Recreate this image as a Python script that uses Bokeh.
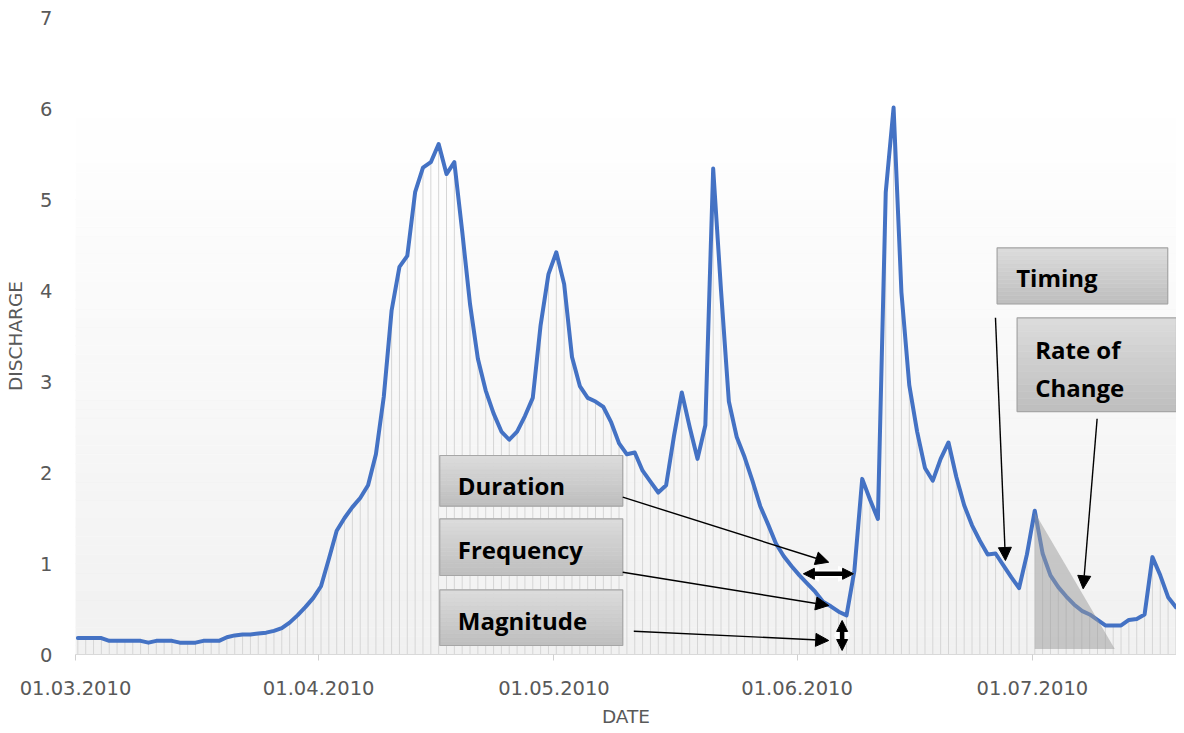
import numpy as np
import pandas as pd
from bokeh.plotting import figure
from bokeh.models import Range1d, FixedTicker, ColumnDataSource, Arrow, NormalHead
from bokeh.core.properties import value
from bokeh.embed import file_html
from bokeh.resources import INLINE

# ---------------- data ----------------
start_date = "2010-03-01"
discharge = [
    # March
    0.18, 0.18, 0.18, 0.18, 0.15, 0.15, 0.15, 0.15, 0.15, 0.13,
    0.15, 0.15, 0.15, 0.13, 0.13, 0.13, 0.15, 0.15, 0.15, 0.19,
    0.21, 0.22, 0.22, 0.23, 0.24, 0.26, 0.29, 0.35, 0.43, 0.52,
    0.62,
    # April
    0.75, 1.05, 1.36, 1.50, 1.62, 1.72, 1.86, 2.20, 2.83, 3.78,
    4.26, 4.38, 5.08, 5.35, 5.41, 5.61, 5.28, 5.41, 4.65, 3.85,
    3.25, 2.90, 2.65, 2.45, 2.36, 2.45, 2.62, 2.82, 3.62, 4.18,
    # May
    4.42, 4.07, 3.27, 2.95, 2.82, 2.78, 2.72, 2.55, 2.32, 2.20,
    2.22, 2.02, 1.90, 1.78, 1.86, 2.40, 2.88, 2.50, 2.15, 2.52,
    5.34, 4.00, 2.78, 2.39, 2.17, 1.91, 1.63, 1.43, 1.22, 1.08,
    0.97,
    # June
    0.87, 0.78, 0.69, 0.58, 0.53, 0.47, 0.43, 0.92, 1.93, 1.70,
    1.49, 5.08, 6.01, 3.98, 2.96, 2.45, 2.05, 1.91, 2.15, 2.33,
    1.95, 1.64, 1.42, 1.25, 1.10, 1.11, 0.98, 0.85, 0.73, 1.10,
    # July
    1.58, 1.11, 0.87, 0.74, 0.64, 0.55, 0.48, 0.44, 0.38, 0.32,
    0.32, 0.32, 0.38, 0.39, 0.44, 1.07, 0.87, 0.63, 0.52,
]
tick_labels = ["01.03.2010", "01.04.2010", "01.05.2010", "01.06.2010", "01.07.2010"]
y_ticks = [0, 1, 2, 3, 4, 5, 6, 7]

annotation_labels = ["Duration", "Frequency", "Magnitude", "Timing", "Rate of", "Change"]

# ---------------- derived ----------------
t0 = pd.Timestamp(start_date)
dates = pd.date_range(t0, periods=len(discharge), freq="D")
day_offset = 0.3  # points sit slightly right of the day tick (Excel style)
xs = np.array([(d - t0).days for d in dates], dtype=float) + day_offset
ys = np.array(discharge)
tick_pos = [(pd.to_datetime(t, format="%d.%m.%Y") - t0).days for t in tick_labels]

src = ColumnDataSource(dict(x=xs, y=ys, y0=np.zeros_like(ys)))

GRAY_TXT = "#595959"
TICK_FONT = "DejaVu Sans"
LBL_FONT = "Open Sans"
X_END = 140.37

p = figure(frame_width=1101, frame_height=637, x_range=Range1d(0, X_END), y_range=Range1d(0, 7),
           output_backend="svg", toolbar_location=None,
           min_border_left=75, min_border_right=0, min_border_top=17, min_border_bottom=70)
p.background_fill_color = "white"
p.border_fill_color = "white"
p.outline_line_color = None
p.xgrid.grid_line_color = None
p.ygrid.grid_line_color = None

# plot-area gradient (white at top -> light gray at bottom)
n_bands = 70
edges = np.linspace(0, 7, n_bands + 1)
cols = []
for i in range(n_bands):
    frac = (edges[i] + edges[i + 1]) / 2 / 7.0
    c = int(round(241 + (255 - 241) * min(1.0, frac * 1.15)))
    cols.append("#%02x%02x%02x" % (c, c, c))
p.quad(left=0, right=X_END, bottom=edges[:-1], top=edges[1:], fill_color=cols,
       line_color=cols, line_width=0.5, level="underlay")

# drop lines
p.segment(x0="x", y0="y0", x1="x", y1="y", source=src, line_color="#d6d6d6", line_width=1)

# main line
p.line("x", "y", source=src, line_color="#4472C4", line_width=4, line_join="round", line_cap="round")

# rate-of-change triangle
peak_i = 122
tri_x = [xs[peak_i], xs[peak_i], xs[peak_i] + 10.2]
tri_y = [ys[peak_i] - 0.02, 0.06, 0.06]
p.patch(tri_x, tri_y, fill_color="#9a9a9a", fill_alpha=0.5, line_color=None)

# ---------------- annotation boxes ----------------
boxes = [
    (46.44, 69.77, 1.630, 2.187),
    (46.44, 69.77, 0.868, 1.491),
    (46.44, 69.77, 0.099, 0.711),
    (117.50, 139.25, 3.854, 4.469),
    (120.05, X_END, 2.670, 3.700),
]
for (l, r, b, t) in boxes:
    n = 14
    e = np.linspace(t, b, n + 1)
    bc = []
    for i in range(n):
        f = i / (n - 1)
        c = int(round(219 - (219 - 191) * f))
        bc.append("#%02x%02x%02x" % (c, c, c))
    p.quad(left=l, right=r, top=e[:-1], bottom=e[1:], fill_color=bc, line_color=bc, line_width=0.5)
    p.quad(left=l, right=r, top=t, bottom=b, fill_color=None, line_color="#a6a6a6", line_width=1.2)

lbl_x = [48.74, 48.74, 48.74, 119.93, 122.35, 122.35]
lbl_y = [1.855, 1.159, 0.372, 4.145, 3.357, 2.936]
p.text(x=lbl_x, y=lbl_y, text=annotation_labels, text_font=value(LBL_FONT),
       text_font_style="bold", text_font_size=value("24px"), text_color="black",
       text_baseline="alphabetic", text_align="left")

# ---------------- arrows ----------------
thin_arrows = [
    (69.77, 1.729, 96.03, 1.014),
    (69.77, 0.904, 96.03, 0.538),
    (71.18, 0.256, 96.03, 0.154),
    (117.29, 3.70, 118.56, 1.033),
    (130.25, 2.59, 128.47, 0.722),
]
for (x0, y0, x1, y1) in thin_arrows:
    p.add_layout(Arrow(end=NormalHead(size=13, fill_color="black", line_color="black"),
                       x_start=x0, y_start=y0, x_end=x1, y_end=y1,
                       line_color="black", line_width=1.4))

thick_arrows = [
    (92.8, 0.887, 99.2, 0.887),
    (97.74, 0.044, 97.74, 0.374),
]
for (x0, y0, x1, y1) in thick_arrows:
    p.add_layout(Arrow(start=NormalHead(size=15, fill_color="white", line_color="white"),
                       end=NormalHead(size=15, fill_color="white", line_color="white"),
                       x_start=x0, y_start=y0, x_end=x1, y_end=y1,
                       line_color="white", line_width=8))
    p.add_layout(Arrow(start=NormalHead(size=11, fill_color="black", line_color="black"),
                       end=NormalHead(size=11, fill_color="black", line_color="black"),
                       x_start=x0, y_start=y0, x_end=x1, y_end=y1,
                       line_color="black", line_width=4.5))

# ---------------- axes ----------------
xa = p.xaxis[0]
xa.ticker = FixedTicker(ticks=tick_pos)
xa.major_label_overrides = {tp: lab for tp, lab in zip(tick_pos, tick_labels)}
xa.axis_line_color = "#d9d9d9"
xa.major_tick_line_color = "#d0d0d0"
xa.major_tick_out = 6
xa.major_tick_in = 0
xa.minor_tick_line_color = None
xa.major_label_text_font = TICK_FONT
xa.major_label_text_font_size = "19.5px"
xa.major_label_text_color = GRAY_TXT
xa.major_label_standoff = 20
xa.axis_label = "DATE"
xa.axis_label_text_font = TICK_FONT
xa.axis_label_text_font_size = "18.5px"
xa.axis_label_text_font_style = "normal"
xa.axis_label_text_color = GRAY_TXT
xa.axis_label_standoff = 8

ya = p.yaxis[0]
ya.ticker = FixedTicker(ticks=y_ticks)
ya.axis_line_color = None
ya.major_tick_line_color = None
ya.minor_tick_line_color = None
ya.major_tick_out = 0
ya.major_tick_in = 0
ya.major_label_text_font = TICK_FONT
ya.major_label_text_font_size = "19.5px"
ya.major_label_text_color = GRAY_TXT
ya.major_label_standoff = 23
ya.axis_label = "DISCHARGE"
ya.axis_label_text_font = TICK_FONT
ya.axis_label_text_font_size = "18.5px"
ya.axis_label_text_font_style = "normal"
ya.axis_label_text_color = GRAY_TXT
ya.axis_label_standoff = 11

open("out.html", "w").write(file_html(p, INLINE))
